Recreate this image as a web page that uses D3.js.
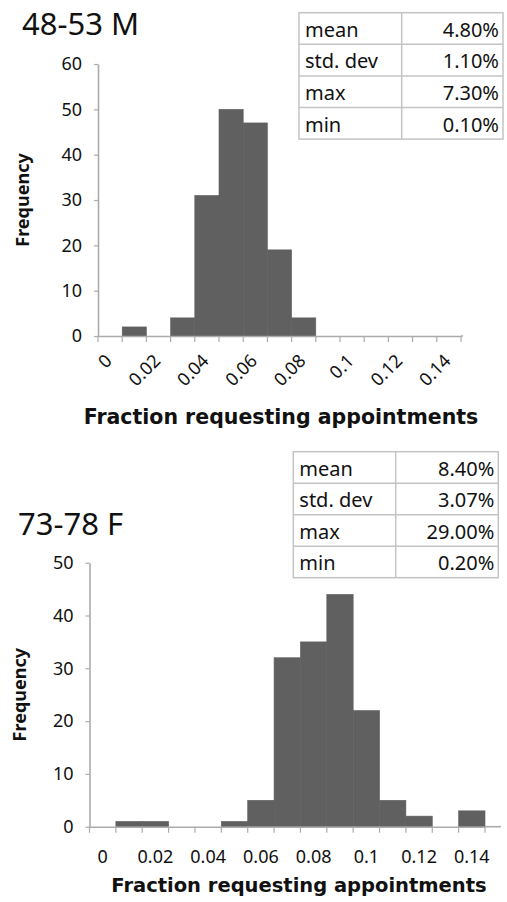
<!DOCTYPE html>
<html><head><meta charset="utf-8">
<script src="https://cdn.jsdelivr.net/npm/d3@7"></script>
<style>body{margin:0;background:#fff} svg{display:block}</style>
</head><body>
<svg id="c" width="507" height="902"></svg>
<script>
// ---- data ----
const binCategories = ["0","0.01","0.02","0.03","0.04","0.05","0.06","0.07","0.08","0.09","0.1","0.11","0.12","0.13","0.14"];
const tickLabels = ["0","0.02","0.04","0.06","0.08","0.1","0.12","0.14"];
const freqTop = [0,2,0,4,31,50,47,19,4,0,0,0,0,0,0];
const freqBottom = [0,1,1,0,0,1,5,32,35,44,22,5,2,0,3];
const yTicksTop = [0,10,20,30,40,50,60];
const yTicksBottom = [0,10,20,30,40,50];
const statNames = ["mean","std. dev","max","min"];
const statsTop = ["4.80%","1.10%","7.30%","0.10%"];
const statsBottom = ["8.40%","3.07%","29.00%","0.20%"];
const panelTitles = ["48-53 M","73-78 F"];
const xTitle = "Fraction requesting appointments";
const yTitle = "Frequency";

const svg = d3.select("#c");
const BAR = "#606060", AX = "#ababab", TXT = "#111";

function panel(c) {
  const g = svg.append("g");
  const x = d3.scaleBand().domain(binCategories).range([c.x0, c.x1]).padding(0);
  const y = d3.scaleLinear().domain([0, c.yMax]).range([c.y0, c.y1]);

  // bars
  g.append("g").selectAll("rect").data(c.freq.map((v,i)=>({c:binCategories[i],v})).filter(d=>d.v>0))
    .join("rect")
    .attr("x", d=>x(d.c)).attr("width", x.bandwidth())
    .attr("y", d=>y(d.v)).attr("height", d=>y(0)-y(d.v))
    .attr("fill", BAR).attr("stroke", BAR).attr("stroke-width", 0.6);

  // y axis
  const ya = g.append("g").attr("transform",`translate(${c.x0},0)`)
    .call(d3.axisLeft(y).tickValues(c.yTicks).tickSize(4).tickSizeOuter(0).tickPadding(12));
  ya.select(".domain").attr("stroke", AX).attr("stroke-width",1.6);
  ya.selectAll(".tick line").attr("stroke", AX).attr("stroke-width",1.2);
  ya.selectAll(".tick text").attr("font-family","Noto Sans").attr("font-size",18).attr("fill",TXT);

  // x axis
  const xa = g.append("g").attr("transform",`translate(0,${c.y0})`)
    .call(d3.axisBottom(x).tickValues(tickLabels).tickSize(0).tickSizeOuter(0));
  xa.select(".domain").attr("stroke", AX).attr("stroke-width",1.6);
  xa.append("line").attr("x1",c.x1).attr("x2",c.x1+c.lineExt).attr("stroke",AX).attr("stroke-width",1.6);
  const edges = binCategories.map(d=>x(d)).concat([x(binCategories[binCategories.length-1])+x.bandwidth()]);
  xa.selectAll(".edge").data(edges).join("line").attr("class","edge")
    .attr("x1",d=>d).attr("x2",d=>d).attr("y1",0).attr("y2",6)
    .attr("stroke",AX).attr("stroke-width",1.2);
  const tt = xa.selectAll(".tick text").attr("font-family","Noto Sans").attr("font-size",18).attr("fill",TXT);
  if (c.rotate) {
    tt.attr("y",0).attr("dy",0).attr("text-anchor","end")
      .attr("transform","translate(3,26) rotate(-45)");
  } else {
    tt.attr("y",0).attr("dy",0).attr("transform",`translate(0,${c.xLabelDy})`);
  }

  // titles
  g.append("text").attr("x",c.titleX).attr("y",c.titleY).text(c.title)
    .attr("font-family","Noto Sans").attr("font-size",31).attr("fill",TXT);
  g.append("text").attr("x",c.xTitleX).attr("y",c.xTitleY).text(xTitle)
    .attr("text-anchor","middle").attr("font-family","DejaVu Sans").attr("font-weight","bold")
    .attr("font-size",c.xTitleSize).attr("fill",TXT);
  g.append("text").attr("transform",`translate(${c.yTitleX},${(c.y0+c.y1)/2}) rotate(-90)`)
    .text(yTitle).attr("text-anchor","middle").attr("font-family","Noto Sans").attr("font-weight","bold")
    .attr("font-size",18).attr("fill",TXT);

  // stats table
  const t = c.tbl;
  const tg = g.append("g");
  tg.append("rect").attr("x",t.x).attr("y",t.top).attr("width",t.right-t.x).attr("height",t.rowH*statNames.length)
    .attr("fill","#fff").attr("stroke","#c4c4c4").attr("stroke-width",1.5);
  tg.append("line").attr("x1",t.mid).attr("x2",t.mid).attr("y1",t.top).attr("y2",t.top+t.rowH*statNames.length)
    .attr("stroke","#c4c4c4").attr("stroke-width",1.5);
  tg.selectAll(".rl").data(statNames.slice(1)).join("line").attr("class","rl")
    .attr("x1",t.x).attr("x2",t.right).attr("y1",(d,i)=>t.top+t.rowH*(i+1)).attr("y2",(d,i)=>t.top+t.rowH*(i+1))
    .attr("stroke","#c4c4c4").attr("stroke-width",1.5);
  tg.selectAll(".nm").data(statNames).join("text").attr("class","nm")
    .attr("x",t.x+6).attr("y",(d,i)=>t.top+t.rowH*i+24).text(d=>d)
    .attr("font-family","Noto Sans").attr("font-size",20).attr("fill",TXT);
  tg.selectAll(".vl").data(c.stats).join("text").attr("class","vl")
    .attr("x",t.right-4).attr("y",(d,i)=>t.top+t.rowH*i+24).text(d=>d).attr("text-anchor","end")
    .attr("font-family","Noto Sans").attr("font-size",20).attr("fill",TXT);
}

panel({title:panelTitles[0], freq:freqTop, yTicks:yTicksTop, yMax:60, stats:statsTop,
  x0:98, x1:461, y0:336, y1:64, rotate:true, lineExt:2,
  titleX:22, titleY:35, xTitleX:281, xTitleY:424, xTitleSize:20.5, yTitleX:29,
  tbl:{x:299, mid:401.7, right:503, top:12.7, rowH:31.6}});

panel({title:panelTitles[1], freq:freqBottom, yTicks:yTicksBottom, yMax:50, stats:statsBottom,
  x0:89.5, x1:485, y0:826.7, y1:562.7, rotate:false, xLabelDy:36.3, lineExt:16,
  titleX:18, titleY:535, xTitleX:299, xTitleY:892, xTitleSize:19.5, yTitleX:26,
  tbl:{x:293.3, mid:395.7, right:498.3, top:451.7, rowH:31.5}});
</script>
</body></html>
